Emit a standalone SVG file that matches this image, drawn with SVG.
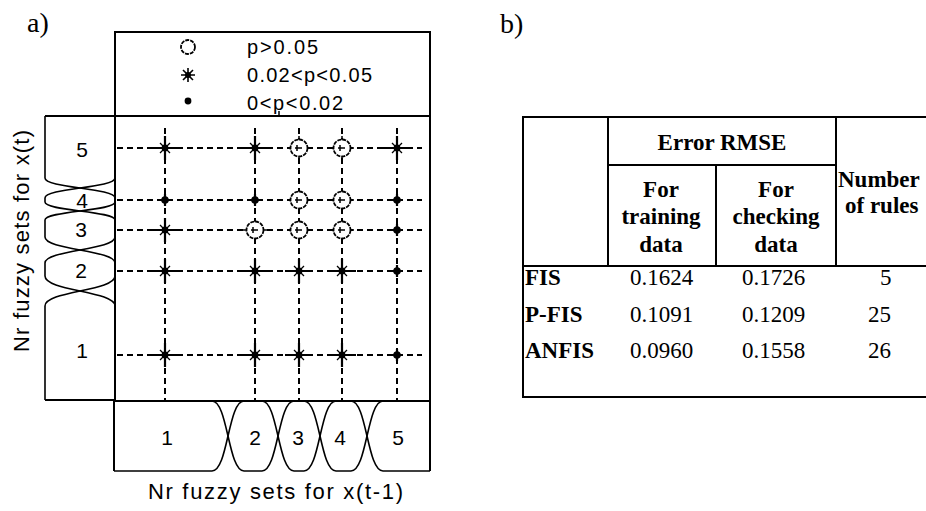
<svg xmlns="http://www.w3.org/2000/svg" xmlns:xlink="http://www.w3.org/1999/xlink" width="926" height="511" viewBox="0 0 926 511">
<style>
.frame{fill:none;stroke:#000;stroke-width:2}
.mf{fill:none;stroke:#000;stroke-width:1.6;stroke-linejoin:round}
.grid{stroke:#000;stroke-width:2;stroke-dasharray:6 4;fill:none}
.sans{font-family:"Liberation Sans",Arial,sans-serif;fill:#000}
.serif{font-family:"Liberation Serif","Times New Roman",serif;fill:#000;font-size:23px}
.b{font-weight:bold}
.tl{stroke:#000;stroke-width:2;fill:none}
</style>
<defs>
<g id="star">
<path d="M-14,0H14M0,-12V12" stroke="#000" stroke-width="2.2"/>
<path d="M-5,-5L5,5M-5,5L5,-5M0,-7V7M-7,0H7" stroke="#000" stroke-width="1.3"/>
<circle r="3.4" fill="#000"/>
</g>
<g id="dot">
<path d="M-5,0H5M0,-6V6" stroke="#000" stroke-width="2.2"/>
<circle r="3.8" fill="#000"/>
</g>
<g id="ring">
<circle r="8.5" fill="#fff" stroke="#000" stroke-width="1.8" stroke-dasharray="4 1"/>
<path d="M-4,0H3M-2,-3V3M0,-12V-8.5M0,8.5V12M-12,0H-8.5M8.5,0H12" stroke="#000" stroke-width="1.5"/>
</g>
</defs>
<rect width="926" height="511" fill="#fff"/>

<text class="serif" x="27" y="32" style="font-size:28px">a)</text>
<text class="serif" x="500" y="33" style="font-size:28px">b)</text>

<g id="legend">
<rect class="frame" x="115" y="32" width="315" height="84"/>
<circle cx="188" cy="47" r="7" fill="none" stroke="#000" stroke-width="1.8" stroke-dasharray="4 1"/>
<g transform="translate(188,75)">
<path d="M-7,0H7M0,-7V7M-5,-5L5,5M-5,5L5,-5" stroke="#000" stroke-width="1.6"/>
<circle r="3" fill="#000"/>
</g>
<circle cx="188" cy="101" r="3.4" fill="#000"/>
<text class="sans" x="247" y="54" font-size="20" textLength="71" lengthAdjust="spacing">p&gt;0.05</text>
<text class="sans" x="247" y="82" font-size="20" textLength="125" lengthAdjust="spacing">0.02&lt;p&lt;0.05</text>
<text class="sans" x="247" y="110" font-size="20" textLength="96" lengthAdjust="spacing">0&lt;p&lt;0.02</text>
</g>

<g id="grid-box">
<rect class="frame" x="115" y="116" width="315" height="285"/>
<line x1="279" y1="111" x2="279" y2="116" stroke="#000" stroke-width="1.5"/>
</g>

<g id="connectors">
<path class="grid" d="M117,148H422M117,200H422M117,230H422M117,271H422M117,355H422"/>
<path class="grid" d="M165,128V400M255,128V400M299,128V400M342,128V400M397,128V400"/>
</g>

<g id="markers">
<use href="#star" x="165" y="148"/>
<use href="#star" x="255" y="148"/>
<use href="#ring" x="299" y="148"/>
<use href="#ring" x="342" y="148"/>
<use href="#star" x="397" y="148"/>

<use href="#dot" x="165" y="200"/>
<use href="#dot" x="255" y="200"/>
<use href="#ring" x="299" y="200"/>
<use href="#ring" x="342" y="200"/>
<use href="#dot" x="397" y="200"/>

<use href="#star" x="165" y="230"/>
<use href="#ring" x="255" y="230"/>
<use href="#ring" x="299" y="230"/>
<use href="#ring" x="342" y="230"/>
<use href="#dot" x="397" y="230"/>

<use href="#star" x="165" y="271"/>
<use href="#star" x="255" y="271"/>
<use href="#star" x="299" y="271"/>
<use href="#star" x="342" y="271"/>
<use href="#dot" x="397" y="271"/>

<use href="#star" x="165" y="355"/>
<use href="#star" x="255" y="355"/>
<use href="#star" x="299" y="355"/>
<use href="#star" x="342" y="355"/>
<use href="#dot" x="397" y="355"/>
</g>

<g id="left-axis">
<path class="frame" d="M115,116H45M45,400H115"/>
<path class="mf" d="M45,116V178C45,188 115,188 115,198"/>
<path class="mf" d="M115,178C115,188 45,188 45,198V202C45,211 115,211 115,220"/>
<path class="mf" d="M115,202C115,211 45,211 45,220V237C45,250 115,250 115,263"/>
<path class="mf" d="M115,237C115,250 45,250 45,263V276C45,291 115,291 115,306"/>
<path class="mf" d="M115,276C115,291 45,291 45,306V400"/>
<text class="sans" font-size="21" text-anchor="middle" x="82" y="157">5</text>
<text class="sans" font-size="21" text-anchor="middle" x="82" y="208">4</text>
<text class="sans" font-size="21" text-anchor="middle" x="81" y="237">3</text>
<text class="sans" font-size="21" text-anchor="middle" x="81" y="278">2</text>
<text class="sans" font-size="21" text-anchor="middle" x="82" y="358">1</text>
<text class="sans" font-size="22" transform="translate(29,352) rotate(-90)" textLength="222" lengthAdjust="spacing">Nr fuzzy sets for x(t)</text>
</g>

<g id="bottom-axis">
<path class="frame" d="M114,401V471M430,401V471"/>
<path class="mf" d="M114,471H212C228,471 228,401 244,401"/>
<path class="mf" d="M212,401C228,401 228,471 244,471H262C278,471 278,401 294,401"/>
<path class="mf" d="M262,401C278,401 278,471 294,471H304C320,471 320,401 336,401"/>
<path class="mf" d="M304,401C320,401 320,471 336,471H351C367,471 367,401 383,401"/>
<path class="mf" d="M351,401C367,401 367,471 383,471H430"/>
<text class="sans" font-size="21" text-anchor="middle" x="167" y="445">1</text>
<text class="sans" font-size="21" text-anchor="middle" x="255" y="445">2</text>
<text class="sans" font-size="21" text-anchor="middle" x="298" y="445">3</text>
<text class="sans" font-size="21" text-anchor="middle" x="340" y="445">4</text>
<text class="sans" font-size="21" text-anchor="middle" x="398" y="445">5</text>
<text class="sans" font-size="22" x="148" y="499" textLength="255" lengthAdjust="spacing">Nr fuzzy sets for x(t-1)</text>
</g>

<g id="table">
<rect class="tl" x="523" y="117" width="412" height="280"/>
<path class="tl" d="M523,266H935M608,117V266M836,117V266M716,165V266M608,165H836"/>
<text class="serif b" x="722" y="150" text-anchor="middle">Error RMSE</text>
<text class="serif b" x="661" y="197" text-anchor="middle">For</text>
<text class="serif b" x="661" y="224" text-anchor="middle">training</text>
<text class="serif b" x="661" y="252" text-anchor="middle">data</text>
<text class="serif b" x="776" y="197" text-anchor="middle">For</text>
<text class="serif b" x="776" y="224" text-anchor="middle">checking</text>
<text class="serif b" x="776" y="252" text-anchor="middle">data</text>
<text class="serif b" x="838" y="187">Number</text>
<text class="serif b" x="845" y="213">of rules</text>
<text class="serif b" x="525" y="285">FIS</text>
<text class="serif" x="630" y="285">0.1624</text>
<text class="serif" x="742" y="285">0.1726</text>
<text class="serif" x="880" y="285">5</text>
<text class="serif b" x="525" y="322">P-FIS</text>
<text class="serif" x="630" y="322">0.1091</text>
<text class="serif" x="742" y="322">0.1209</text>
<text class="serif" x="868" y="322">25</text>
<text class="serif b" x="525" y="358">ANFIS</text>
<text class="serif" x="630" y="358">0.0960</text>
<text class="serif" x="742" y="358">0.1558</text>
<text class="serif" x="868" y="358">26</text>
</g>
</svg>
